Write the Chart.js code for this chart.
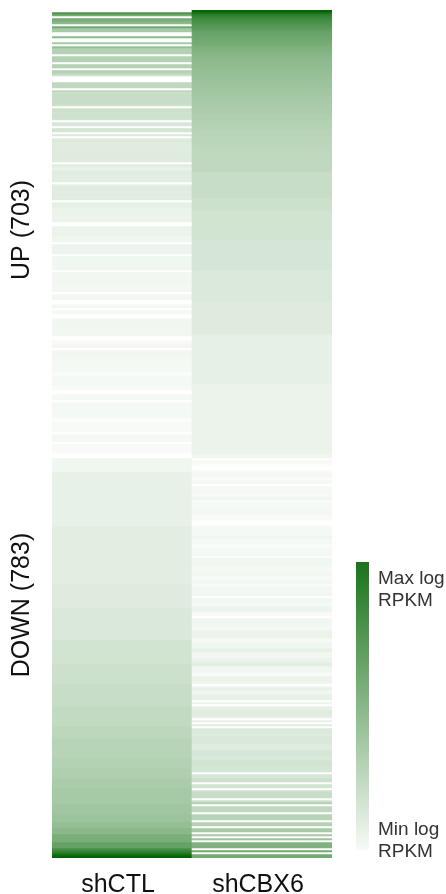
<!DOCTYPE html>
<html lang="en">
<head>
  <meta charset="UTF-8" />
  <title>UP / DOWN expression heatmap</title>
  <script src="https://cdn.jsdelivr.net/npm/chart.js"></script>
  <style>
    body { margin: 0; background: #fff; }
    #heat { display: block; }
  </style>
</head>
<body>
  <canvas id="heat" width="446" height="894"></canvas>

  <script>
    // columns of the heatmap and the two row groups
    const samples = ['shCTL', 'shCBX6'];
    const groups = ['UP (703)', 'DOWN (783)'];

    // one entry per row bin (genes sorted as in the figure),
    // value = % of the max log RPKM (0 = white, 100 = darkest green)
    const upCTL = [
      0, 70, 55, 0, 55, 50, 45, 0, 55, 35,
      35, 0, 0, 45, 0, 0, 35, 0, 40, 30,
      30, 30, 0, 30, 30, 30, 0, 30, 30, 0,
      30, 28, 20, 0, 0, 0, 25, 25, 25, 0,
      25, 20, 22, 22, 22, 22, 22, 20, 0, 20,
      20, 18, 20, 19, 18, 0, 16, 15, 0, 18,
      17, 0, 15, 0, 13, 14, 12, 13, 12, 12,
      12, 12, 13, 13, 13, 13, 0, 12, 10, 8,
      12, 12, 11, 11, 11, 11, 0, 10, 12, 12,
      11, 12, 12, 11, 12, 0, 10, 10, 10, 8,
      8, 8, 8, 7, 8, 8, 0, 0, 8, 8,
      7, 8, 8, 6, 6, 6, 0, 7, 7, 7,
      7, 7, 0, 6, 6, 6, 6, 6, 6, 6,
      0, 5, 5, 5, 5, 5, 5, 5, 4, 5,
      5, 0, 5, 5, 5, 0, 0, 4, 5, 0,
      4, 4, 0, 0, 5, 5, 6, 6, 6, 5,
      5, 5, 5, 0, 0, 3, 3, 5, 5, 0,
      5, 5, 5, 5, 4, 4, 4, 4, 4, 4,
      4, 2, 2, 4, 4, 4, 4, 4, 3, 3,
      0, 0, 4, 4, 4, 0, 4, 4, 4, 4,
      4, 4, 4, 4, 2, 2, 3, 3, 3, 3,
      3, 0, 4, 4, 4, 4, 0, 3, 3, 3,
      3, 1, 0, 0
    ];
    const upCBX6 = [
      100, 90, 82, 78, 75, 72, 70, 68, 66, 64,
      60, 59, 58, 57, 56, 55, 54, 53, 51, 50,
      49, 48, 47, 46, 45, 44, 44, 43, 43, 42,
      42, 41, 41, 40, 40, 39, 39, 38, 38, 37,
      37, 36, 36, 35, 35, 34, 34, 33, 33, 33,
      32, 32, 31, 31, 31, 30, 30, 30, 29, 29,
      28, 28, 28, 27, 27, 27, 27, 26, 26, 26,
      25, 25, 25, 25, 25, 25, 25, 25, 25, 25,
      25, 22, 22, 22, 22, 22, 22, 22, 22, 22,
      22, 22, 22, 22, 20, 20, 20, 20, 20, 20,
      18, 18, 18, 18, 18, 18, 18, 18, 18, 18,
      18, 18, 18, 18, 18, 16, 16, 16, 16, 16,
      16, 16, 16, 16, 16, 16, 16, 16, 16, 16,
      14, 14, 14, 14, 14, 14, 14, 14, 14, 14,
      14, 14, 14, 14, 14, 14, 13, 13, 13, 13,
      13, 13, 13, 13, 13, 13, 13, 13, 13, 13,
      13, 13, 10, 10, 10, 10, 10, 10, 10, 10,
      10, 10, 10, 10, 10, 10, 10, 10, 10, 10,
      10, 10, 10, 10, 10, 10, 10, 8, 8, 8,
      8, 8, 8, 8, 8, 8, 8, 8, 8, 8,
      8, 8, 8, 8, 8, 8, 8, 8, 8, 8,
      8, 8, 8, 8, 8, 8, 8, 8, 8, 8,
      8, 8, 6, 6
    ];
    const downCTL = [
      6, 6, 6, 6, 6, 6, 6, 9, 9, 9,
      9, 9, 9, 9, 9, 9, 9, 9, 9, 9,
      9, 9, 9, 9, 9, 9, 9, 9, 9, 9,
      9, 9, 9, 9, 11, 11, 11, 11, 11, 11,
      11, 11, 11, 11, 11, 11, 11, 11, 11, 11,
      11, 11, 11, 11, 11, 11, 11, 11, 11, 11,
      11, 11, 11, 13, 13, 13, 13, 13, 13, 13,
      13, 13, 13, 13, 13, 15, 15, 15, 15, 15,
      15, 15, 15, 15, 15, 15, 15, 15, 15, 15,
      15, 18, 18, 18, 18, 18, 18, 18, 18, 18,
      18, 18, 18, 20, 20, 20, 20, 20, 20, 20,
      20, 20, 20, 22, 22, 22, 22, 22, 22, 22,
      22, 22, 22, 22, 24, 24, 24, 24, 24, 24,
      24, 24, 24, 24, 26, 26, 26, 26, 26, 26,
      28, 28, 28, 28, 28, 28, 28, 28, 28, 28,
      30, 30, 30, 30, 30, 31, 31, 31, 31, 31,
      33, 33, 33, 33, 33, 35, 35, 35, 35, 35,
      35, 35, 35, 37, 37, 37, 37, 37, 39, 39,
      39, 39, 42, 42, 42, 46, 46, 46, 52, 52,
      52, 52, 60, 60, 60, 72, 78, 85, 95, 100
    ];
    const downCBX6 = [
      0, 4, 3, 2, 0, 0, 3, 4, 5, 3,
      2, 4, 4, 0, 4, 4, 4, 4, 3, 6,
      6, 2, 4, 4, 4, 4, 5, 5, 3, 3,
      3, 1, 0, 1, 4, 4, 4, 4, 4, 7,
      4, 4, 4, 2, 2, 4, 4, 4, 4, 2,
      6, 6, 6, 6, 4, 4, 4, 5, 5, 3,
      3, 5, 5, 2, 5, 5, 5, 5, 5, 0,
      6, 6, 4, 4, 7, 7, 7, 3, 3, 0,
      6, 6, 6, 6, 4, 4, 8, 8, 8, 8,
      3, 3, 6, 6, 6, 9, 9, 5, 5, 5,
      8, 8, 11, 11, 6, 6, 6, 3, 3, 8,
      8, 8, 5, 0, 7, 10, 6, 6, 9, 9,
      9, 0, 8, 0, 10, 10, 12, 12, 12, 9,
      0, 10, 0, 12, 0, 14, 14, 14, 12, 15,
      15, 15, 15, 12, 12, 12, 16, 16, 16, 14,
      14, 18, 18, 18, 16, 16, 16, 0, 16, 16,
      20, 20, 0, 18, 18, 0, 20, 22, 22, 22,
      0, 20, 30, 0, 25, 25, 25, 0, 28, 28,
      28, 0, 30, 30, 0, 35, 35, 0, 35, 0,
      38, 0, 50, 50, 50, 0, 55, 0, 55, 55
    ];

    const keyTop = ['Max log', 'RPKM'];
    const keyBottom = ['Min log', 'RPKM'];

    // white -> dark green (#006400)
    function green(pct) {
      const t = pct / 100;
      const rb = Math.round(255 * (1 - t));
      const g = Math.round(255 - 155 * t);
      return `rgb(${rb},${g},${rb})`;
    }

    const rows = upCTL.map((v, i) => [v, upCBX6[i]])
      .concat(downCTL.map((v, i) => [v, downCBX6[i]]));

    // every row bin is one stacked segment of height 1 in both columns
    const datasets = rows.map(r => ({
      data: samples.map(() => 1),
      backgroundColor: r.map(green),
      borderWidth: 0,
      barPercentage: 1,
      categoryPercentage: 1,
      stack: 'rows'
    }));

    // group labels on the left + colour key on the right
    const extras = {
      id: 'extras',
      afterDraw(chart) {
        const ctx = chart.ctx;
        const y = chart.scales.y;
        const anchors = [110, 297.5]; // row position of each group label
        ctx.save();
        ctx.fillStyle = '#111';
        ctx.font = '25px "Liberation Sans", Arial, sans-serif';
        ctx.textAlign = 'center';
        ctx.textBaseline = 'middle';
        groups.forEach((g, i) => {
          ctx.save();
          ctx.translate(22, y.getPixelForValue(anchors[i]));
          ctx.rotate(-Math.PI / 2);
          ctx.fillText(g, 0, 0);
          ctx.restore();
        });

        const kx = 356, kw = 13, kTop = 562, kBot = 850;
        const grad = ctx.createLinearGradient(0, kTop, 0, kBot);
        grad.addColorStop(0, green(90));
        grad.addColorStop(1, green(3));
        ctx.fillStyle = grad;
        ctx.fillRect(kx, kTop, kw, kBot - kTop);

        ctx.fillStyle = '#333';
        ctx.font = '19px "Liberation Sans", Arial, sans-serif';
        ctx.textAlign = 'left';
        ctx.textBaseline = 'alphabetic';
        ctx.fillText(keyTop[0], 378, 584);
        ctx.fillText(keyTop[1], 378, 606);
        ctx.fillText(keyBottom[0], 378, 835);
        ctx.fillText(keyBottom[1], 378, 857);
        ctx.restore();
      }
    };

    new Chart(document.getElementById('heat'), {
      type: 'bar',
      data: { labels: samples, datasets: datasets },
      options: {
        responsive: false,
        animation: false,
        devicePixelRatio: 1,
        events: [],
        layout: { padding: { top: 10, left: 52, right: 114, bottom: 0 } },
        plugins: { legend: { display: false }, tooltip: { enabled: false } },
        scales: {
          x: {
            stacked: true,
            grid: { display: false },
            border: { display: false },
            ticks: {
              color: '#111',
              padding: 4,
              labelOffset: -4,
              font: { family: '"Liberation Sans", Arial, sans-serif', size: 25 }
            },
            afterFit: s => { s.height = 36; }
          },
          y: {
            stacked: true,
            display: false,
            reverse: true,
            min: 0,
            max: rows.length
          }
        }
      },
      plugins: [extras]
    });
  </script>
</body>
</html>
